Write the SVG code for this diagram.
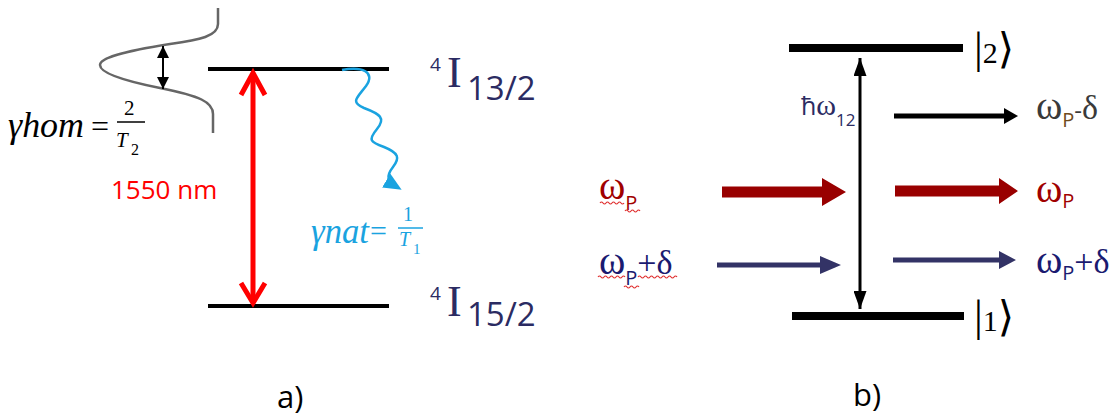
<svg xmlns="http://www.w3.org/2000/svg" width="1117" height="418" viewBox="0 0 1117 418">
<style>
.lvl{stroke:#000;stroke-width:4;fill:none}
.lvlb{stroke:#000;stroke-width:8;fill:none}
.serif{font-family:"Liberation Serif","DejaVu Serif",serif}
.sans{font-family:"Open Sans","Liberation Sans",sans-serif}
.it{font-style:italic}
.navy{fill:#2b2b62}
.cyan{fill:#1aa3e0}
.wavy{fill:none;stroke-width:1.2}
</style>
<defs>
<marker id="blk" viewBox="0 0 10 10" refX="10" refY="5" markerWidth="12" markerHeight="12" markerUnits="userSpaceOnUse" orient="auto-start-reverse">
<path d="M0,0 L10,5 L0,10 Z" fill="#000"/>
</marker>
<marker id="blkL" viewBox="0 0 10 10" refX="10" refY="5" markerWidth="18" markerHeight="13" markerUnits="userSpaceOnUse" orient="auto-start-reverse" preserveAspectRatio="none">
<path d="M0,0 L10,5 L0,10 Z" fill="#000"/>
</marker>
<marker id="cy" viewBox="0 0 10 10" refX="7" refY="5" markerWidth="18" markerHeight="16" markerUnits="userSpaceOnUse" orient="auto" preserveAspectRatio="none">
<path d="M0,0 L10,5 L0,10 Z" fill="#1aa3e0"/>
</marker>
</defs>

<!-- Panel a -->
<g id="level-upper-a"><line class="lvl" x1="208" y1="69" x2="389" y2="69"/></g>
<g id="level-lower-a"><line class="lvl" x1="208" y1="306" x2="389" y2="306"/></g>
<g id="gaussian">
<path d="M218,8 L218,24 C218,36 200,40 170,44 C120,52 100,58 100,65 C100,74 130,82 160,88 C200,96 213,102 213,114 L213,133" fill="none" stroke="#666" stroke-width="2.5"/>
</g>
<g id="label-13-2">
<text class="sans navy" x="430" y="71" font-size="19">4</text>
<text class="serif navy" x="447" y="87" font-size="44">I</text>
<text class="sans navy" x="467" y="100" font-size="33">13/2</text>
</g>
<g id="label-15-2">
<text class="sans navy" x="430" y="300" font-size="19">4</text>
<text class="serif navy" x="447" y="316" font-size="44">I</text>
<text class="sans navy" x="467" y="326" font-size="33">15/2</text>
</g>
<g id="label-1550">
<text class="sans" x="111" y="199" font-size="26" fill="#ff0000">1550 nm</text>
</g>
<g id="gamma-hom">
<text class="serif it" x="8" y="137" font-size="35" fill="#000" textLength="76" lengthAdjust="spacingAndGlyphs">γhom</text>
<text class="serif" x="91" y="137" font-size="32" fill="#000">=</text>
<text class="serif" x="124" y="115" font-size="21" fill="#000">2</text>
<line x1="117" y1="122" x2="145" y2="122" stroke="#000" stroke-width="1.5"/>
<text class="serif it" x="116" y="147" font-size="21" fill="#000">T</text>
<text class="serif" x="131" y="155" font-size="16" fill="#000">2</text>
</g>
<g id="gamma-nat">
<text class="serif it cyan" x="311" y="243" font-size="35" textLength="58" lengthAdjust="spacingAndGlyphs">γnat</text>
<text class="serif cyan" x="370" y="241" font-size="30">=</text>
<text class="serif cyan" x="403" y="221" font-size="20">1</text>
<line x1="398" y1="228" x2="423" y2="228" stroke="#1aa3e0" stroke-width="1.5"/>
<text class="serif it cyan" x="399" y="246" font-size="20">T</text>
<text class="serif cyan" x="413" y="254" font-size="15">1</text>
</g>
<g id="label-a"><text class="sans" x="277" y="408" font-size="31" fill="#000">a)</text></g>

<!-- Panel b -->
<g id="level-2"><line class="lvlb" x1="789" y1="48" x2="963" y2="48"/>
<text class="serif" x="974" y="63" fill="#000"><tspan font-size="44">|</tspan><tspan font-size="30">2</tspan><tspan font-size="42">⟩</tspan></text></g>
<g id="level-1"><line class="lvlb" x1="792" y1="316" x2="964" y2="316"/>
<text class="serif" x="974" y="331" fill="#000"><tspan font-size="44">|</tspan><tspan font-size="30">1</tspan><tspan font-size="42">⟩</tspan></text></g>
<g id="label-hw12">
<text class="navy" x="801" y="115" fill="#1f1f6e"><tspan class="sans" font-size="25">ħ</tspan><tspan class="serif" font-size="30">ω</tspan><tspan class="sans" font-size="17" dy="11">12</tspan></text>
</g>
<g id="label-wp-left">
<text x="599" y="199" fill="#a00000"><tspan class="serif" font-size="40">ω</tspan><tspan class="sans" font-size="20" dy="11">P</tspan></text>
<path class="wavy" stroke="#e03030" d="M600,203 q1.5,-2 3,0 t3,0 t3,0 t3,0 t3,0 t3,0 t3,0 t3,0 M625,211 q1.5,-2 3,0 t3,0 t3,0 t3,0 t3,0"/>
</g>
<g id="label-wpd-left">
<text x="599" y="274" fill="#1a1a70"><tspan class="serif" font-size="40">ω</tspan><tspan class="sans" font-size="20" dy="11">P</tspan><tspan class="serif" font-size="34" dy="-11">+δ</tspan></text>
<path class="wavy" stroke="#e03030" d="M598,277 q1.5,-2 3,0 t3,0 t3,0 t3,0 t3,0 t3,0 t3,0 t3,0 t3,0 M624,287 q1.5,-2 3,0 t3,0 t3,0 t3,0 t3,0 M638,277 q1.5,-2 3,0 t3,0 t3,0 t3,0 t3,0 t3,0 t3,0 t3,0 t3,0 t3,0 t3,0 t3,0 t3,0"/>
</g>
<g id="label-wpmd-right">
<text x="1036" y="119" fill="#3a3a3a"><tspan class="serif" font-size="40">ω</tspan><tspan class="sans" font-size="20" dy="8" fill="#6e4a1c">P</tspan><tspan class="sans" font-size="24" dy="-8">-</tspan><tspan class="serif" font-size="34">δ</tspan></text>
</g>
<g id="label-wp-right">
<text x="1036" y="202" fill="#a00000"><tspan class="serif" font-size="40">ω</tspan><tspan class="sans" font-size="20" dy="6">P</tspan></text>
</g>
<g id="label-wpd-right">
<text x="1036" y="273" fill="#1a1a70"><tspan class="serif" font-size="40">ω</tspan><tspan class="sans" font-size="20" dy="7">P</tspan><tspan class="serif" font-size="34" dy="-7">+δ</tspan></text>
</g>
<g id="label-b"><text class="sans" x="853" y="406" font-size="31" fill="#000">b)</text></g>

<!-- Connectors -->
<g id="connectors">
<line x1="253" y1="73" x2="253" y2="302" stroke="#ff0000" stroke-width="5"/>
<polyline points="241,95 253,73 265,95" fill="none" stroke="#ff0000" stroke-width="5" stroke-linejoin="miter"/>
<polyline points="241,283 253,303 265,283" fill="none" stroke="#ff0000" stroke-width="5" stroke-linejoin="miter"/>
<line x1="163" y1="46" x2="163" y2="89" stroke="#000" stroke-width="2" marker-start="url(#blk)" marker-end="url(#blk)"/>
<path d="M342,70 C362,66 376,72 366,86 C357,98 350,102 364,108 C380,114 386,118 377,129 C368,140 370,142 384,147 C399,153 400,158 393,167 C386,176 387,181 397,187" fill="none" stroke="#1aa3e0" stroke-width="2.5" marker-end="url(#cy)"/>
<line x1="860" y1="58" x2="860" y2="309" stroke="#000" stroke-width="3" marker-start="url(#blkL)" marker-end="url(#blkL)"/>
<path d="M894,113.5 L1004,113.5 L1004,108 L1018,116 L1004,124 L1004,118.5 L894,118.5 Z" fill="#000"/>
<path d="M895,185.5 L999,185.5 L999,178 L1018,191 L999,204 L999,196.5 L895,196.5 Z" fill="#990000"/>
<path d="M893,257.5 L999,257.5 L999,251 L1016,260 L999,269 L999,262.5 L893,262.5 Z" fill="#333366"/>
<path d="M722,186.5 L822,186.5 L822,178 L846,192 L822,206 L822,197.5 L722,197.5 Z" fill="#990000"/>
<path d="M717,262.5 L820,262.5 L820,256 L841,265 L820,274 L820,267.5 L717,267.5 Z" fill="#333366"/>
</g>
</svg>
